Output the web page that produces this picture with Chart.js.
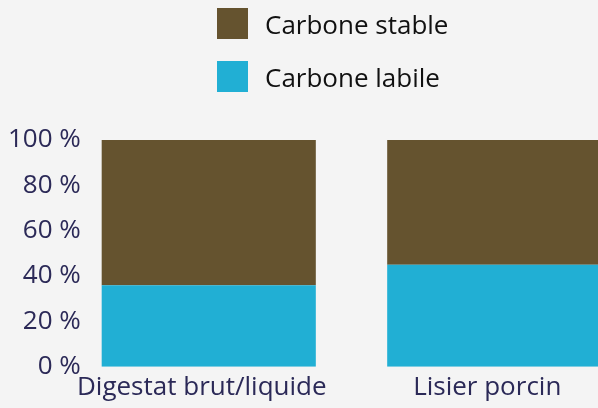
<!DOCTYPE html>
<html lang="fr">
<head>
    <meta charset="UTF-8">
    <title>Carbone stable / labile</title>
    <script src="https://cdn.jsdelivr.net/npm/chart.js"></script>
    <style>
        body { margin: 0; background: #f4f4f4; overflow: hidden; }
        #wrap { position: relative; width: 640px; height: 408px; }
        #legend { position: absolute; left: 217px; top: 8px; font-family: "Open Sans", sans-serif; font-size: 26px; color: #111; }
        .item { display: flex; align-items: center; height: 31px; margin-bottom: 22px; }
        .box { width: 31px; height: 31px; margin-right: 17px; }
    </style>
</head>
<body>
    <div id="wrap">
        <canvas id="carbonChart"></canvas>
        <div id="legend"></div>
    </div>
    <script>
        const categories = ["Digestat brut/liquide", "Lisier porcin"];
        const labile = [36, 45];
        const stable = [64, 55];
        const yTicks = [0, 20, 40, 60, 80, 100];

        const colors = { stable: '#65532f', labile: '#21afd4' };
        const navy = '#2b2957';

        const datasets = [
            { label: 'Carbone labile', data: labile, backgroundColor: colors.labile },
            { label: 'Carbone stable', data: stable, backgroundColor: colors.stable }
        ];

        // legend, stable on top
        const legend = document.getElementById('legend');
        datasets.slice().reverse().forEach(ds => {
            const row = document.createElement('div');
            row.className = 'item';
            row.innerHTML = `<div class="box" style="background:${ds.backgroundColor}"></div><span>${ds.label}</span>`;
            legend.appendChild(row);
        });

        const ctx = document.getElementById('carbonChart').getContext('2d');
        new Chart(ctx, {
            type: 'bar',
            data: {
                labels: categories,
                datasets: datasets.map(d => ({ ...d, barPercentage: 1, categoryPercentage: 0.75, borderWidth: 0 }))
            },
            options: {
                responsive: true,
                maintainAspectRatio: false,
                animation: false,
                layout: { padding: { top: 140, right: 3, left: 0, bottom: 0 } },
                plugins: { legend: { display: false }, tooltip: { enabled: false } },
                scales: {
                    x: {
                        stacked: true,
                        grid: { display: false, drawTicks: false },
                        border: { display: false },
                        ticks: { color: navy, padding: 5, labelOffset: -7, font: { family: 'Open Sans', size: 26 } }
                    },
                    y: {
                        stacked: true,
                        min: 0,
                        max: 100,
                        afterBuildTicks: scale => { scale.ticks = yTicks.map(v => ({ value: v })); },
                        afterFit: scale => { scale.width = 66; },
                        grid: { display: false, drawTicks: false },
                        border: { display: false },
                        ticks: {
                            color: navy,
                            mirror: true,
                            crossAlign: 'far',
                            padding: -58,
                            font: { family: 'Open Sans', size: 26 },
                            callback: v => v + ' %'
                        }
                    }
                }
            }
        });
    </script>
</body>
</html>
